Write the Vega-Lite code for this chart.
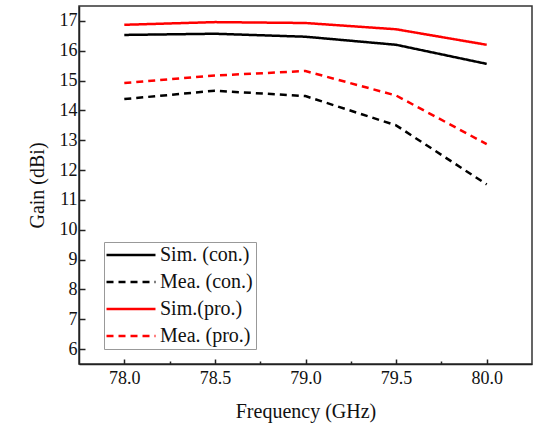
{
  "$schema": "https://vega.github.io/schema/vega-lite/v6.json",
  "width": 453,
  "height": 358,
  "autosize": {"type": "none"},
  "padding": {"left": 79, "top": 6, "right": 2, "bottom": 62},
  "background": "white",
  "config": {
    "font": "Liberation Serif",
    "view": {"stroke": "#333", "strokeWidth": 1.5},
    "axis": {"grid": false, "domainColor": "#222", "domainWidth": 1.5, "tickColor": "#222", "tickWidth": 1.5, "labelColor": "#111", "titleColor": "#111", "titleFontWeight": "normal", "labelFont": "Liberation Serif", "titleFont": "Liberation Serif"},
    "legend": {
      "labelFont": "Liberation Serif",
      "labelFontSize": 20,
      "labelColor": "#111",
      "labelLimit": 300,
      "symbolType": "M-4,0H4",
      "symbolSize": 150,
      "symbolStrokeWidth": 2.5,
      "symbolOffset": 14,
      "rowPadding": 7,
      "labelOffset": 19,
      "padding": 3,
      "strokeColor": "#999",
      "fillColor": "white"
    }
  },
  "data": {
    "values": [
      {"f": 78.0, "g": 16.53, "s": "Sim. (con.)"},
      {"f": 78.5, "g": 16.57, "s": "Sim. (con.)"},
      {"f": 79.0, "g": 16.47, "s": "Sim. (con.)"},
      {"f": 79.5, "g": 16.2, "s": "Sim. (con.)"},
      {"f": 80.0, "g": 15.56, "s": "Sim. (con.)"},
      {"f": 78.0, "g": 14.38, "s": "Mea. (con.)"},
      {"f": 78.5, "g": 14.66, "s": "Mea. (con.)"},
      {"f": 79.0, "g": 14.48, "s": "Mea. (con.)"},
      {"f": 79.5, "g": 13.5, "s": "Mea. (con.)"},
      {"f": 80.0, "g": 11.52, "s": "Mea. (con.)"},
      {"f": 78.0, "g": 16.87, "s": "Sim.(pro.)"},
      {"f": 78.5, "g": 16.96, "s": "Sim.(pro.)"},
      {"f": 79.0, "g": 16.93, "s": "Sim.(pro.)"},
      {"f": 79.5, "g": 16.72, "s": "Sim.(pro.)"},
      {"f": 80.0, "g": 16.2, "s": "Sim.(pro.)"},
      {"f": 78.0, "g": 14.92, "s": "Mea. (pro.)"},
      {"f": 78.5, "g": 15.17, "s": "Mea. (pro.)"},
      {"f": 79.0, "g": 15.32, "s": "Mea. (pro.)"},
      {"f": 79.5, "g": 14.5, "s": "Mea. (pro.)"},
      {"f": 80.0, "g": 12.87, "s": "Mea. (pro.)"}
    ]
  },
  "mark": {"type": "line", "strokeWidth": 2.5},
  "encoding": {
    "x": {
      "field": "f", "type": "quantitative",
      "scale": {"domain": [77.75, 80.25], "nice": false, "zero": false},
      "axis": {
        "title": "Frequency (GHz)",
        "titleFontSize": 20,
        "titlePadding": 14,
        "labelFontSize": 18,
        "labelPadding": 10,
        "values": [78, 78.25, 78.5, 78.75, 79, 79.25, 79.5, 79.75, 80],
        "labelExpr": "datum.value % 0.5 == 0 ? format(datum.value, '.1f') : ''",
        "tickSize": {"condition": {"test": "datum.value % 0.5 != 0", "value": -3}, "value": -5}
      }
    },
    "y": {
      "field": "g", "type": "quantitative",
      "scale": {"domain": [5.5, 17.5], "nice": false, "zero": false},
      "axis": {
        "title": "Gain (dBi)",
        "titleFontSize": 20,
        "titlePadding": 12,
        "labelFontSize": 18,
        "labelPadding": 8,
        "values": [6, 7, 8, 9, 10, 11, 12, 13, 14, 15, 16, 17],
        "tickSize": -6
      }
    },
    "color": {
      "field": "s", "type": "nominal",
      "scale": {"domain": ["Sim. (con.)", "Mea. (con.)", "Sim.(pro.)", "Mea. (pro.)"], "range": ["#000000", "#000000", "#ff0000", "#ff0000"]},
      "legend": {"title": null, "orient": "none", "legendX": 25, "legendY": 236}
    },
    "strokeDash": {
      "field": "s", "type": "nominal",
      "scale": {"domain": ["Sim. (con.)", "Mea. (con.)", "Sim.(pro.)", "Mea. (pro.)"], "range": [[1, 0], [7, 5], [1, 0], [7, 5]]},
      "legend": {"title": null, "orient": "none", "legendX": 25, "legendY": 236}
    }
  }
}
